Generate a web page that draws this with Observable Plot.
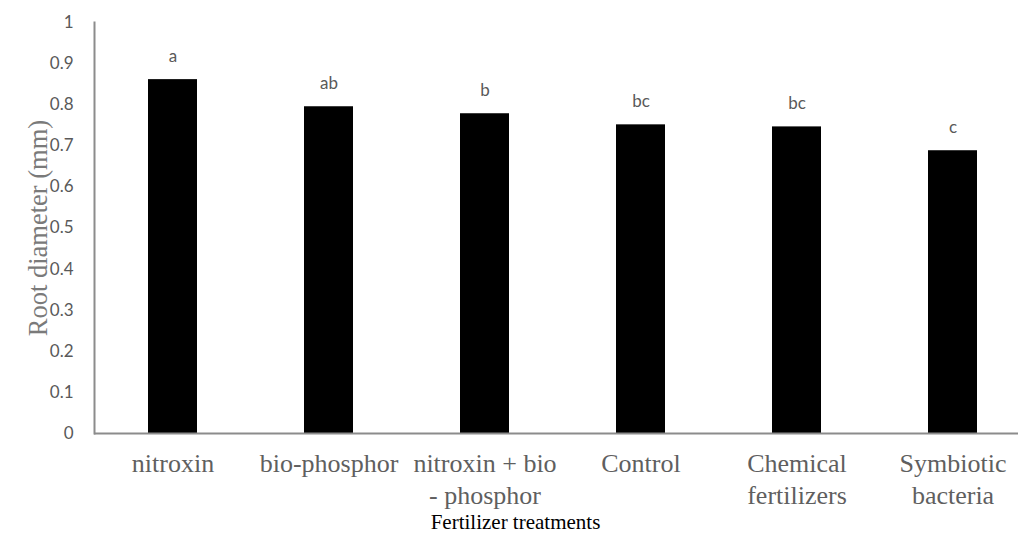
<!DOCTYPE html>
<html>
<head>
<meta charset="utf-8">
<script src="https://cdn.jsdelivr.net/npm/d3@7"></script>
<script src="https://cdn.jsdelivr.net/npm/@observablehq/plot@0.6"></script>
<style>
  body { margin: 0; background: #fff; }
  #chart svg { display: block; }
</style>
</head>
<body>
<div id="chart"></div>
<script>
const categories = ["nitroxin", "bio-phosphor", "nitroxin + bio\n- phosphor", "Control", "Chemical\nfertilizers", "Symbiotic\nbacteria"];
const values = [0.861, 0.795, 0.778, 0.751, 0.746, 0.688];
const letters = ["a", "ab", "b", "bc", "bc", "c"];
const yTicks = [0, 0.1, 0.2, 0.3, 0.4, 0.5, 0.6, 0.7, 0.8, 0.9, 1];
const yTitle = "Root diameter (mm)";
const xTitle = "Fertilizer treatments";

const data = categories.map((c, i) => ({category: c, value: values[i], letter: letters[i]}));
const serif = "'Times New Roman', 'Liberation Serif', serif";

const chart = Plot.plot({
  width: 1018,
  height: 536,
  marginTop: 22,
  marginBottom: 103,
  marginLeft: 94,
  marginRight: 0,
  style: {background: "#fff"},
  x: {domain: categories, range: [94, 1030], paddingInner: 0.686, paddingOuter: 0.343},
  y: {domain: [0, 1]},
  marks: [
    Plot.barY(data, {x: "category", y: "value", fill: "#000"}),
    Plot.text(data, {x: "category", y: "value", text: "letter", dy: -23, fontSize: 17, fontFamily: "Lato", fill: "#595959"}),
    Plot.axisY({ticks: yTicks, tickFormat: d => String(d), tickSize: 0, tickPadding: 21, fontSize: 17, fontFamily: "Lato", fill: "#595959", label: null}),
    Plot.axisY({ticks: [], tickSize: 0, label: yTitle, labelAnchor: "center", labelOffset: 66, labelArrow: "none", fontSize: 26.5, fontFamily: serif, fill: "#7a7a7a"}),
    Plot.axisX({tickSize: 0, tickPadding: 16, fontSize: 26, fontFamily: serif, fill: "#5f5f5f", lineHeight: 1.22, label: null}),
    Plot.frame({anchor: "left", stroke: "#8c8c8c", strokeWidth: 2}),
    Plot.ruleY([0], {stroke: "#8c8c8c", strokeWidth: 2}),
    Plot.text([xTitle], {frameAnchor: "bottom", dx: -41, dy: 95, fontSize: 21, fontFamily: serif, fill: "#000"})
  ]
});
document.getElementById("chart").append(chart);
</script>
</body>
</html>
